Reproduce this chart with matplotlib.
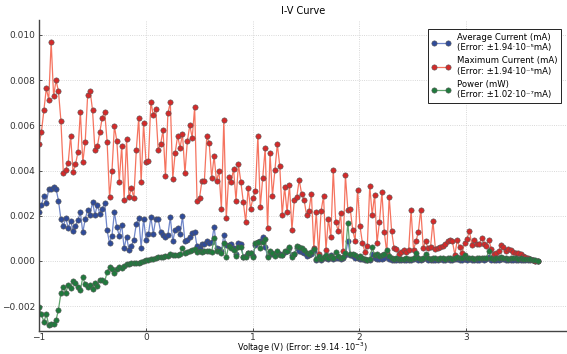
import numpy as np
import matplotlib
matplotlib.use("Agg")
import matplotlib.pyplot as plt

# voltage sweep, evenly spaced samples from -1 V to ~3.67 V
voltage = np.linspace(-1.0, 3.67, 206)

# values in units of 1e-3
avg_current = [
    2.15, 2.46, 2.89, 2.55, 3.19, 3.19, 3.27, 3.19, 2.67, 1.85, 1.53, 1.91, 1.45, 1.78, 1.32,
    1.53, 1.82, 2.15, 1.26, 1.85, 2.27, 2.04, 2.61, 2.04, 2.49, 2.07, 2.30, 2.58, 1.35, 0.79,
    1.11, 2.15, 1.50, 1.11, 1.60,
    0.56, 1.08, 0.49, 0.67, 0.93, 1.63, 1.91, 0.59, 1.87, 0.93, 1.19, 1.94, 1.19, 1.85, 1.85,
    1.30, 1.16, 1.05, 1.16, 1.93, 0.86, 1.38, 1.45, 1.19, 1.97, 0.86, 0.93, 1.08, 1.23, 1.28,
    0.64, 0.56, 0.76, 0.76, 0.86,
    0.80, 0.82, 1.52, 0.55, 0.52, 0.42, 1.16, 0.70, 0.70, 0.75, 0.55, 0.30, 0.78, 0.75, 0.19,
    0.22, 0.34, 0.35, 0.20, 0.72, 0.85, 0.90, 1.05, 0.60, 0.20, 0.40, 0.30, 0.30, 0.38, 0.30,
    0.28, 0.40, 0.45, 0.55, 0.25, 0.30,
    0.55, 0.45, 0.40, 0.35, 0.22, 0.25, 0.30, 0.45, 0.05, 0.12, 0.05, 0.15, 0.12, 0.10, 0.25,
    0.10, 0.15, 0.12, 0.08, 0.12, 0.25, 0.86, 0.25, 0.22, 0.15, 0.12, 0.10, 0.08, 0.06, 0.04,
    0.05, 0.31, 0.12, 0.10, 0.10,
    0.10, 0.12, 0.20, 0.08, 0.05, 0.06, 0.05, 0.04, 0.05, 0.06, 0.05, 0.06, 0.05, 0.08, 0.20,
    0.06, 0.05, 0.07, 0.15, 0.06, 0.05, 0.06, 0.05, 0.06, 0.07, 0.05, 0.06, 0.08, 0.06, 0.05,
    0.07, 0.10, 0.06,
    0.06, 0.08, 0.05, 0.07, 0.06, 0.05, 0.06, 0.05, 0.07, 0.06, 0.08, 0.19, 0.06, 0.05, 0.05,
    0.06, 0.07, 0.08, 0.06, 0.05, 0.06, 0.05, 0.04, 0.05, 0.06, 0.04, 0.03, 0.04, 0.03, 0.02,
    0.01, 0.00,
]

max_current = [
    5.16, 5.70, 6.68, 7.63, 7.14, 9.70, 7.29, 7.99, 7.51, 6.21, 3.91, 4.04, 4.34, 5.53, 3.94,
    4.27, 4.81, 6.61, 4.36, 5.27, 7.33, 7.54, 6.68, 4.89, 5.07, 5.70, 6.34, 6.61, 5.27, 2.83,
    3.97, 5.97, 5.30, 3.51, 5.08,
    2.69, 5.38, 2.81, 3.23, 2.78, 4.89, 6.33, 3.48, 6.09, 4.37, 4.43, 7.05, 6.44, 6.74, 4.93,
    5.16, 5.79, 3.75, 6.53, 7.02, 3.64, 4.79, 5.53, 5.01, 5.63, 3.87, 5.30, 6.00, 5.45, 6.79,
    2.64, 2.78, 3.54, 3.53, 5.53,
    5.20, 3.67, 4.64, 3.53, 3.96, 2.30, 6.24, 1.88, 3.73, 3.50, 4.07, 2.67, 4.28, 3.50, 2.59,
    1.72, 3.23, 2.30, 2.79, 3.11, 5.54, 2.39, 3.67, 4.98, 1.45, 4.76, 2.87, 4.04, 5.17, 4.19,
    2.04, 3.27, 2.15, 3.35, 1.38,
    2.71, 2.83, 3.59, 2.96, 2.71, 2.04, 2.22, 2.98, 0.56, 2.16, 0.31, 2.22, 2.86, 0.49, 1.87,
    1.05, 4.03, 1.73, 1.33, 2.10, 0.46, 3.79, 2.27, 2.29, 1.35, 0.90, 3.16, 1.53, 0.79, 0.41,
    0.64, 3.33, 2.04, 2.93,
    0.80, 1.73, 3.05, 1.26, 0.37, 2.84, 1.32, 0.56, 0.53, 0.31, 0.40, 0.47, 0.40, 0.49, 2.25,
    0.50, 0.86, 1.30, 2.27, 0.59, 0.86, 0.56, 0.62, 1.75, 0.53, 0.59, 0.62, 0.67, 0.73, 0.86,
    0.92, 0.86, 0.27, 0.93, 0.60,
    0.34, 0.81, 0.98, 1.33, 0.70, 0.93, 0.74, 0.74, 1.02, 0.74, 0.67, 0.93, 0.52, 0.30, 0.34,
    0.43, 0.70, 0.62, 0.46, 0.52, 0.50, 0.41, 0.37, 0.33, 0.30, 0.24, 0.18, 0.13, 0.09, 0.04,
    0.01, 0.00,
]

power = [
    -2.06, -2.36, -2.70, -2.36, -2.84, -2.77, -2.77, -2.62, -2.15, -1.44, -1.14, -1.40, -1.07,
    -1.21, -0.87, -0.99, -1.14, -1.29, -0.73, -1.02, -1.14, -1.07, -1.25, -0.99, -1.10, -0.84,
    -0.84, -0.92, -0.50, -0.25, -0.37, -0.55, -0.37, -0.25, -0.33,
    -0.22, -0.15, -0.12, -0.08, -0.10, -0.08, -0.07, -0.03, 0.00, 0.02, 0.05, 0.08, 0.10, 0.14,
    0.17, 0.16, 0.19, 0.20, 0.22, 0.30, 0.26, 0.28, 0.27, 0.30, 0.55, 0.33, 0.40, 0.45, 0.50,
    0.52, 0.40, 0.42, 0.38, 0.45, 0.42,
    0.45, 0.40, 1.01, 0.42, 0.42, 0.35, 0.80, 0.16, 0.67, 0.55, 0.49, 0.24, 0.62, 0.60, 0.19,
    0.19, 0.36, 0.36, 0.19, 0.80, 0.84, 0.55, 0.85, 0.96, 0.19, 0.46, 0.34, 0.22, 0.42, 0.25,
    0.26, 0.45, 0.42, 0.60, 0.19, 0.30,
    0.64, 0.60, 0.58, 0.50, 0.35, 0.32, 0.40, 0.52, 0.08, 0.20, 0.08, 0.18, 0.25, 0.12, 0.20,
    0.15, 0.41, 0.20, 0.12, 0.18, 0.35, 1.70, 0.32, 0.30, 0.25, 0.18, 0.22, 0.12, 0.08, 0.05,
    0.08, 0.60, 0.28, 0.32, 0.20,
    0.25, 0.30, 0.49, 0.20, 0.12, 0.10, 0.12, 0.10, 0.08, 0.10, 0.12, 0.10, 0.09, 0.12, 0.34,
    0.12, 0.10, 0.14, 0.31, 0.12, 0.10, 0.11, 0.12, 0.10, 0.13, 0.12, 0.10, 0.14, 0.12, 0.10,
    0.13, 0.18, 0.12,
    0.12, 0.27, 0.12, 0.15, 0.12, 0.10, 0.13, 0.11, 0.14, 0.12, 0.15, 0.46, 0.12, 0.10, 0.11,
    0.13, 0.18, 0.15, 0.12, 0.10, 0.12, 0.11, 0.15, 0.10, 0.12, 0.09, 0.08, 0.10, 0.07, 0.05,
    0.03, 0.01,
]

labels = [
    "Average Current (mA)\n(Error: ±1.94·10⁻⁵mA)",
    "Maximum Current (mA)\n(Error: ±1.94·10⁻⁵mA)",
    "Power (mW)\n(Error: ±1.02·10⁻⁷mA)",
]
line_colors = ["#6f86c9", "#f5735f", "#5fa46c"]
marker_colors = ["#2f4b9a", "#d42a2a", "#1f7a3c"]

fig = plt.figure(figsize=(5.67, 3.54), dpi=100)
ax = fig.add_axes([0.0688, 0.065, 0.9312, 0.8785])

series = [avg_current, max_current, power]
for vals, lab, lc, mc in zip(series, labels, line_colors, marker_colors):
    ax.plot(voltage, np.array(vals) * 1e-3, color=lc, lw=0.9,
            marker="o", ms=3.8, mfc=mc, mec="#555555", mew=0.4, label=lab)

ax.set_xlim(-1.0, 3.946)
ax.set_ylim(-0.0031, 0.01066)
ax.set_xticks([-1, 0, 1, 2, 3])
ax.set_yticks([-0.002, 0.0, 0.002, 0.004, 0.006, 0.008, 0.010])
ax.set_yticklabels(["\u22120.002", "0.000", "0.002", "0.004", "0.006", "0.008", "0.010"])
ax.set_xticklabels(["\u22121", "0", "1", "2", "3"])
ax.tick_params(labelsize=6.5, length=2, width=0.6, direction="in", colors="#333333")
ax.tick_params(axis="x", pad=1.2)
ax.tick_params(axis="y", pad=3)
ax.grid(True, ls=":", lw=0.6, color="#cccccc")
for s in ["top", "right"]:
    ax.spines[s].set_visible(False)
for s in ["left", "bottom"]:
    ax.spines[s].set_linewidth(1.0)
    ax.spines[s].set_color("#444444")

ax.set_title("I-V Curve", fontsize=7, pad=4)
ax.set_xlabel(r"Voltage (V) (Error: $\pm9.14\cdot10^{-3}$)", fontsize=5.9)
ax.xaxis.set_label_coords(0.5, -0.032)

leg = ax.legend(loc="upper right", bbox_to_anchor=(0.997, 0.985), fontsize=6.1,
                numpoints=2, fancybox=False, framealpha=1, edgecolor="#222222",
                handlelength=2.2, borderpad=0.45, labelspacing=0.5, handletextpad=0.8)
leg.get_frame().set_linewidth(0.7)

fig.savefig("out.png", dpi=100)
